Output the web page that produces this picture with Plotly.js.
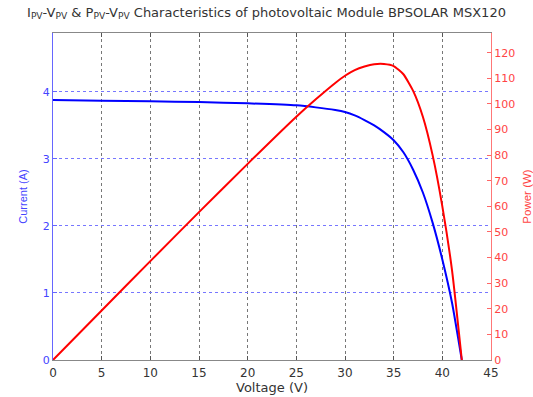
<!DOCTYPE html>
<html>
<head>
<meta charset="utf-8">
<script src="https://cdn.plot.ly/plotly-3.0.1.min.js"></script>
<style>html,body{margin:0;padding:0;background:#fff}#chart{width:533px;height:397px}</style>
</head>
<body>
<div id="chart"></div>
<script>
// Voltage samples (V)
const voltage = [0, 5, 10, 15, 20, 25, 27, 29, 30, 31, 32, 33, 34, 35, 36, 37, 38, 39, 40, 41, 42];
// Current (A)
const current = [3.88, 3.87, 3.86, 3.85, 3.83, 3.80, 3.77, 3.73, 3.70, 3.65, 3.58, 3.50, 3.40, 3.28, 3.10, 2.84, 2.50, 2.05, 1.50, 0.85, 0.0];
// Power (W)
const power = [0, 19.35, 38.6, 57.75, 76.6, 95, 101.8, 108.2, 111, 113.2, 114.6, 115.5, 115.6, 114.8, 111.6, 105.1, 95, 80, 60, 34.9, 0];

const xTicks = [0, 5, 10, 15, 20, 25, 30, 35, 40, 45];
const currentTicks = [0, 1, 2, 3, 4];
const powerTicks = [0, 10, 20, 30, 40, 50, 60, 70, 80, 90, 100, 110, 120];

const font = 'DejaVu Sans, Verdana, sans-serif';
const font2 = 'Liberation Sans, Arial, sans-serif';

const traces = [
  {x: voltage, y: current, type: 'scatter', mode: 'lines', line: {color: '#0000ff', width: 2, shape: 'spline', smoothing: 0.5}, yaxis: 'y', hoverinfo: 'skip'},
  {x: voltage, y: power, type: 'scatter', mode: 'lines', line: {color: '#ff0000', width: 2, shape: 'spline', smoothing: 0.5}, yaxis: 'y2', hoverinfo: 'skip'}
];

const layout = {
  width: 533, height: 397,
  margin: {l: 53, r: 42, t: 33, b: 37},
  paper_bgcolor: '#fff', plot_bgcolor: '#fff',
  showlegend: false,
  font: {family: font, size: 11, color: '#333'},
  title: {
    text: 'I<sub>PV</sub>-V<sub>PV</sub> & P<sub>PV</sub>-V<sub>PV</sub> Characteristics of photovoltaic Module BPSOLAR MSX120',
    font: {family: font, size: 13, color: '#333'},
    x: 0.5, xref: 'container', xanchor: 'center',
    y: 1 - 12/397, yref: 'container', yanchor: 'middle'
  },
  xaxis: {
    range: [0, 45], tickvals: xTicks, ticktext: xTicks.map(String),
    showgrid: true, gridcolor: '#777', griddash: 'dot', gridwidth: 1,
    showline: true, linecolor: '#888', linewidth: 1, mirror: 'ticks',
    ticks: 'inside', ticklen: 4, tickcolor: '#555',
    zeroline: false, ticklabelstandoff: 2,
    tickfont: {family: font, size: 12, color: '#333'},
    title: {text: 'Voltage (V)', font: {family: font, size: 13, color: '#333'}, standoff: 3}
  },
  yaxis: {
    range: [0, 4.88], tickvals: currentTicks, ticktext: currentTicks.map(String),
    showgrid: true, gridcolor: '#7777ff', griddash: 'dot', gridwidth: 1,
    showline: true, linecolor: '#6666ff', linewidth: 1,
    ticks: 'inside', ticklen: 4, tickcolor: '#6666ff',
    zeroline: false,
    tickfont: {family: font, size: 11, color: '#4444ff'},
    title: {text: 'Current (A)', font: {family: font2, size: 11, color: '#4444ff'}, standoff: 12}
  },
  yaxis2: {
    overlaying: 'y', side: 'right',
    range: [0, 127.7], tickvals: powerTicks, ticktext: powerTicks.map(String),
    showgrid: false,
    showline: true, linecolor: '#ff7777', linewidth: 1,
    ticks: 'inside', ticklen: 4, tickcolor: '#ff6666',
    zeroline: false,
    tickfont: {family: font, size: 11, color: '#ff4444'},
    title: {text: 'Power (W)', font: {family: font2, size: 11.5, color: '#ff4444'}, standoff: 8}
  }
};

Plotly.newPlot('chart', traces, layout, {displayModeBar: false, staticPlot: true});
</script>
</body>
</html>
